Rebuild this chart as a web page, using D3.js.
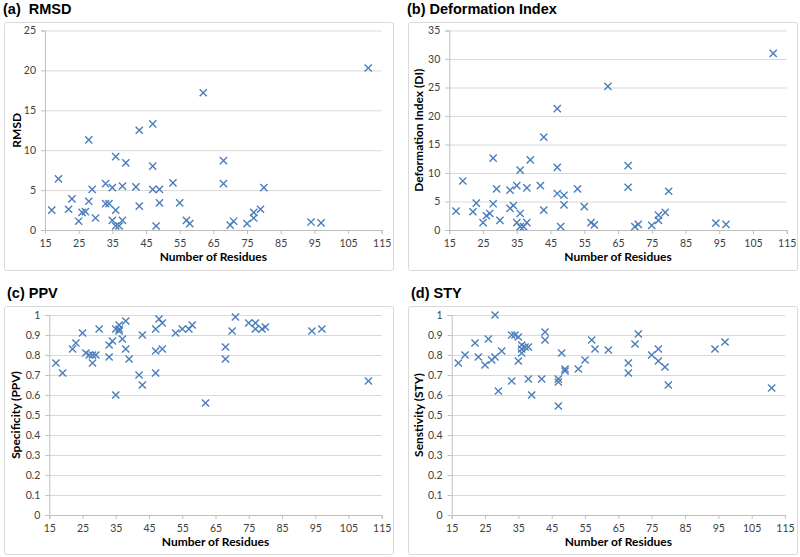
<!DOCTYPE html>
<html>
<head>
<meta charset="utf-8">
<script src="https://cdn.jsdelivr.net/npm/d3@7/dist/d3.min.js"></script>
<style>
  html, body { margin: 0; padding: 0; background: #fff; }
  svg { display: block; }
</style>
</head>
<body>
<svg id="chart" width="800" height="557"></svg>
<script>
// ---------------- DATA ----------------
const residues = [17,19,22,23,25,26,27,28,28,29,30,
  33,33,34,35,35,36,36,36,37,38,38,39,
  42,43,43,47,47,47,48,49,49,53,55,57,58,62,68,68,70,71,75,77,77,79,80,94,97,111];

const rmsd = [2.5,6.4,2.6,3.9,1.1,2.2,2.3,11.3,3.6,5.1,1.5,
  5.8,3.3,3.3,5.3,1.2,9.2,2.5,0.5,0.5,5.5,1.2,8.4,
  5.4,12.5,3.0,13.3,8.0,5.1,0.5,5.1,3.4,5.9,3.4,1.2,0.8,17.2,8.7,5.8,0.6,1.1,0.8,2.2,1.5,2.6,5.3,1.0,0.9,20.3];

const deformation = [3.3,8.6,3.2,4.7,1.3,2.5,2.9,12.6,4.6,7.2,1.7,
  7.0,3.8,4.3,7.8,1.3,10.5,2.9,0.6,0.6,7.4,1.3,12.3,
  7.8,16.3,3.5,21.3,11.0,6.4,0.6,6.1,4.4,7.2,4.1,1.3,0.9,25.2,11.3,7.5,0.6,1.0,0.8,2.6,1.7,3.1,6.8,1.2,1.0,31.0];

const ppv = [0.76,0.71,0.83,0.86,0.91,0.81,0.80,0.80,0.76,0.80,0.93,
  0.79,0.85,0.87,0.60,0.93,0.95,0.93,0.92,0.88,0.97,0.83,0.78,
  0.70,0.65,0.90,0.93,0.82,0.71,0.98,0.96,0.83,0.91,0.93,0.93,0.95,0.56,0.84,0.78,0.92,0.99,0.96,0.96,0.93,0.93,0.94,0.92,0.93,0.67];

const sty = [0.76,0.80,0.86,0.79,0.75,0.88,0.775,0.79,1.00,0.62,0.82,
  0.90,0.67,0.90,0.89,0.77,0.85,0.83,0.81,0.84,0.84,0.68,0.60,
  0.68,0.915,0.875,0.68,0.665,0.545,0.81,0.73,0.72,0.73,0.775,0.875,0.83,0.825,0.76,0.71,0.855,0.905,0.80,0.83,0.77,0.74,0.65,0.83,0.865,0.635];

const xTicks = [15,25,35,45,55,65,75,85,95,105,115];
const rmsdTicks = [0,5,10,15,20,25];
const diTicks = [0,5,10,15,20,25,30,35];
const fracTicks = [0,0.1,0.2,0.3,0.4,0.5,0.6,0.7,0.8,0.9,1];

const titles = ["(a)\u00a0\u00a0RMSD", "(b) Deformation Index", "(c) PPV", "(d) STY"];
const yTitles = ["RMSD", "Deformation Index (DI)", "Specificity (PPV)", "Senstivity (STY)"];
const xTitle = "Number of Residues";

// ---------------- LAYOUT ----------------
const panels = [
  { title: titles[0], yTitle: yTitles[0], values: rmsd, yTicks: rmsdTicks,
    box: [4, 22, 389, 248], plot: [45, 381.7, 30.5, 230], titlePos: [3, 14], yTitleX: 17 },
  { title: titles[1], yTitle: yTitles[1], values: deformation, yTicks: diTicks,
    box: [408, 22, 389, 248], plot: [449.3, 786.7, 30.5, 230], titlePos: [407, 14], yTitleX: 418.5 },
  { title: titles[2], yTitle: yTitles[2], values: ppv, yTicks: fracTicks,
    box: [4, 306, 389, 248], plot: [49.3, 381.7, 315, 515], titlePos: [7, 298], yTitleX: 15.5 },
  { title: titles[3], yTitle: yTitles[3], values: sty, yTicks: fracTicks,
    box: [408, 306, 389, 248], plot: [451.7, 785, 315, 515], titlePos: [411, 298], yTitleX: 418.5 }
];

const svg = d3.select("#chart");
const markerColor = "#4a7ebb";
const gridColor = "#d9d9d9";
const axisColor = "#bfbfbf";
const tickFont = "Lato, 'Open Sans', sans-serif";

panels.forEach(p => {
  const [l, r, t, b] = p.plot;
  const g = svg.append("g");

  // outer box
  g.append("rect")
    .attr("x", p.box[0] + 0.5).attr("y", p.box[1] + 0.5)
    .attr("width", p.box[2]).attr("height", p.box[3])
    .attr("rx", 2)
    .attr("fill", "#fff").attr("stroke", gridColor).attr("stroke-width", 1);

  // panel title
  svg.append("text")
    .attr("x", p.titlePos[0]).attr("y", p.titlePos[1])
    .attr("font-family", "'Liberation Sans', Arial, sans-serif")
    .attr("font-weight", "bold").attr("font-size", 14.5)
    .attr("fill", "#000")
    .text(p.title);

  const x = d3.scaleLinear().domain([15, 115]).range([l, r]);
  const yMax = p.yTicks[p.yTicks.length - 1];
  const y = d3.scaleLinear().domain([0, yMax]).range([b, t]);

  // gridlines
  g.append("g")
    .attr("transform", `translate(${l},0)`)
    .call(d3.axisLeft(y).tickValues(p.yTicks).tickSize(-(r - l)).tickFormat(""))
    .call(s => s.select(".domain").remove())
    .call(s => s.selectAll("line").attr("stroke", gridColor).attr("stroke-width", 1));

  // y axis
  const ya = g.append("g")
    .attr("transform", `translate(${l},0)`)
    .call(d3.axisLeft(y).tickValues(p.yTicks).tickSize(4).tickPadding(5)
      .tickFormat(d => d3.format("~g")(d)));
  ya.select(".domain").attr("stroke", axisColor);
  ya.selectAll("line").attr("stroke", axisColor);
  ya.selectAll("text").attr("font-family", tickFont).attr("font-size", 10.5).attr("fill", "#404040");

  // x axis
  const xa = g.append("g")
    .attr("transform", `translate(0,${b})`)
    .call(d3.axisBottom(x).tickValues(xTicks).tickSize(4).tickPadding(6));
  xa.select(".domain").attr("stroke", axisColor);
  xa.selectAll("line").attr("stroke", axisColor);
  xa.selectAll("text").attr("font-family", tickFont).attr("font-size", 10.5).attr("fill", "#404040");

  // axis titles
  g.append("text")
    .attr("x", (l + r) / 2).attr("y", b + 31)
    .attr("text-anchor", "middle")
    .attr("font-family", tickFont).attr("font-weight", "bold").attr("font-size", 12)
    .attr("fill", "#000")
    .text(xTitle);

  g.append("text")
    .attr("transform", `translate(${p.yTitleX + 4},${(t + b) / 2}) rotate(-90)`)
    .attr("text-anchor", "middle")
    .attr("font-family", tickFont).attr("font-weight", "bold").attr("font-size", 12)
    .attr("fill", "#000")
    .text(p.yTitle);

  // markers (X)
  const s = 3.6;
  const pts = residues.map((rv, i) => ({ xv: rv, yv: p.values[i] }));
  g.append("g").selectAll("path").data(pts).join("path")
    .attr("d", d => {
      const cx = x(d.xv), cy = y(d.yv);
      return `M${cx - s},${cy - s}L${cx + s},${cy + s}M${cx - s},${cy + s}L${cx + s},${cy - s}`;
    })
    .attr("stroke", markerColor).attr("stroke-width", 1.4).attr("fill", "none");
});
</script>
</body>
</html>
